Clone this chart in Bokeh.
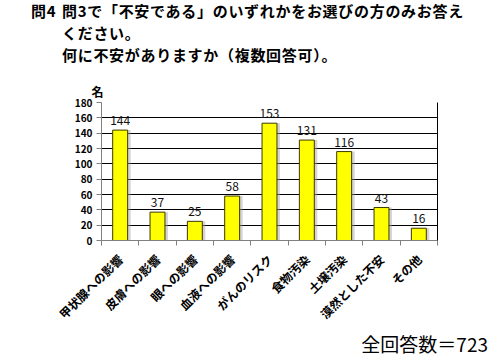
import math
from bokeh.plotting import figure
from bokeh.layouts import column
from bokeh.models import Range1d, FixedTicker, LabelSet, ColumnDataSource, Div, LinearAxis
from bokeh.core.properties import value
from bokeh.transform import dodge
from bokeh.embed import file_html
from bokeh.resources import INLINE

categories = ["甲状腺への影響", "皮膚への影響", "眼への影響", "血液への影響", "がんのリスク",
              "食物汚染", "土壌汚染", "漠然とした不安", "その他"]
counts = [144, 37, 25, 58, 153, 131, 116, 43, 16]
y_ticks = [0, 20, 40, 60, 80, 100, 120, 140, 160, 180]
title_q = "問4"
title_lines = ["問3で「不安である」のいずれかをお選びの方のみお答え", "ください。", "何に不安がありますか（複数回答可）。"]
unit_label = "名"
total_label = "全回答数＝723"

JP = "Noto Sans CJK JP"
HEADER_H = 75
FOOTER_H = 30
FIG_H = 360 - HEADER_H - FOOTER_H

# ---------- header ----------
def span(text, left, top, size, lh, weight="bold", ls=0.7):
    return (f'<span style="position:absolute;left:{left}px;top:{top}px;font-size:{size}px;'
            f'line-height:{lh}px;height:{lh}px;font-weight:{weight};letter-spacing:{ls}px;'
            f'white-space:nowrap;">{text}</span>')

header_html = (f'<div style="position:relative;width:500px;height:{HEADER_H}px;'
               f'font-family:\'{JP}\';color:black;">'
               + span(title_q, 31, 0, 15, 22)
               + span(title_lines[0], 62, 0, 15, 22)
               + span(title_lines[1], 62, 22, 15, 22)
               + span(title_lines[2], 62, 44, 15, 22)
               + '</div>')
header = Div(text=header_html, width=500, height=HEADER_H, margin=0)

# ---------- chart ----------
xs = list(range(len(categories)))
p = figure(width=500, height=FIG_H, x_range=Range1d(-0.5, len(categories) - 0.5),
           y_range=Range1d(0, 180), output_backend="svg", toolbar_location=None,
           min_border_left=101, min_border_right=63, min_border_top=27, min_border_bottom=90,
           title=unit_label, margin=0)
p.background_fill_color = "white"
p.border_fill_color = "white"
p.outline_line_color = None

p.title.align = "left"
p.title.offset = -10
p.title.standoff = 6
p.title.text_font = JP
p.title.text_font_size = "12px"
p.title.text_font_style = "bold"
p.title.text_color = "black"

src = ColumnDataSource(dict(x=xs, value=counts, label=[str(v) for v in counts]))
px_unit = len(categories) / 336.0

p.vbar(x=dodge("x", 3 * px_unit, range=p.x_range), top="value", width=0.4, source=src,
       fill_color="#a0a0a0", fill_alpha=0.45, line_color=None)
p.vbar(x="x", top="value", width=0.4, source=src, fill_color="#FFFF00",
       line_color="#3a3a00", line_width=1)

p.add_layout(LabelSet(x="x", y="value", text="label", source=src, y_offset=5,
                      text_align="center", text_baseline="alphabetic",
                      text_font=value(JP), text_font_size="12px", text_color="#111111"))

p.xgrid.visible = False
p.ygrid.ticker = FixedTicker(ticks=y_ticks)
p.ygrid.grid_line_color = "black"
p.ygrid.grid_line_alpha = 1

AX = "#808080"
p.yaxis.ticker = FixedTicker(ticks=y_ticks)
p.yaxis.axis_line_color = AX
p.yaxis.major_tick_line_color = AX
p.yaxis.major_tick_out = 5
p.yaxis.major_tick_in = 0
p.yaxis.minor_tick_line_color = None
p.yaxis.major_label_standoff = 4
p.yaxis.major_label_text_font = JP
p.yaxis.major_label_text_font_style = "bold"
p.yaxis.major_label_text_font_size = "10px"
p.yaxis.major_label_text_color = "black"

p.xaxis.ticker = FixedTicker(ticks=xs, minor_ticks=[i - 0.5 for i in range(len(categories) + 1)])
p.xaxis.major_label_overrides = {i: c for i, c in enumerate(categories)}
p.xaxis.major_label_orientation = math.pi / 4
p.xaxis.axis_line_color = AX
p.xaxis.major_tick_line_color = None
p.xaxis.major_tick_out = 0
p.xaxis.major_tick_in = 0
p.xaxis.minor_tick_line_color = AX
p.xaxis.minor_tick_out = 5
p.xaxis.minor_tick_in = 0
p.xaxis.major_label_standoff = 11
p.xaxis.major_label_text_font = JP
p.xaxis.major_label_text_font_style = "bold"
p.xaxis.major_label_text_font_size = "12px"
p.xaxis.major_label_text_color = "black"

# right border of the plot area
right_axis = LinearAxis(ticker=FixedTicker(ticks=[]), axis_line_color="black",
                        major_tick_line_color=None, minor_tick_line_color=None,
                        major_label_text_font_size="0px")
p.add_layout(right_axis, "right")

# ---------- footer ----------
footer_html = (f'<div style="position:relative;width:500px;height:{FOOTER_H}px;'
               f'font-family:\'{JP}\';color:black;">'
               f'<span style="position:absolute;right:12px;top:4px;font-size:19px;'
               f'line-height:19px;height:19px;white-space:nowrap;">{total_label}</span></div>')
footer = Div(text=footer_html, width=500, height=FOOTER_H, margin=0)

layout = column(header, p, footer, spacing=0)
open("out.html", "w").write(file_html(layout, INLINE))
